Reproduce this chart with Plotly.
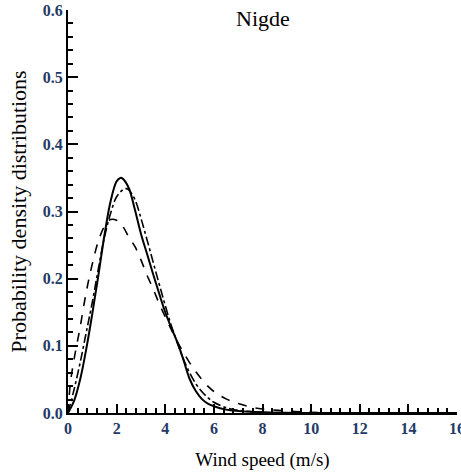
import plotly.graph_objects as go

# Solid curve
x_solid = [0, 0.25, 0.5, 0.75, 1.0, 1.25, 1.5, 1.75, 2.0, 2.15, 2.25, 2.5, 2.75, 3.0, 3.25, 3.5, 3.75,
           4.0, 4.25, 4.5, 4.75, 5.0, 5.25, 5.5, 5.75, 6.0, 6.5, 7.0, 8.0, 10.0, 16.0]
y_solid = [0, 0.018, 0.05, 0.095, 0.148, 0.205, 0.265, 0.315, 0.345, 0.350, 0.349, 0.335, 0.303, 0.267,
           0.237, 0.207, 0.178, 0.150, 0.127, 0.105, 0.079, 0.051, 0.033, 0.021, 0.014, 0.010, 0.005,
           0.003, 0.001, 0.0, 0.0]

# Dash-dot curve
x_dashdot = [0, 0.25, 0.5, 0.75, 1.0, 1.25, 1.5, 1.75, 2.0, 2.25, 2.4, 2.5, 2.75, 3.0, 3.25, 3.5, 3.75,
             4.0, 4.25, 4.5, 4.75, 5.0, 5.25, 5.5, 5.75, 6.0, 6.5, 7.0, 8.0, 10.0, 16.0]
y_dashdot = [0, 0.035, 0.075, 0.12, 0.165, 0.215, 0.262, 0.297, 0.322, 0.332, 0.334, 0.332, 0.318, 0.290,
             0.258, 0.225, 0.192, 0.160, 0.130, 0.104, 0.080, 0.060, 0.044, 0.032, 0.023, 0.016, 0.008,
             0.004, 0.001, 0.0, 0.0]

# Dashed curve
x_dashed = [0, 0.1, 0.25, 0.5, 0.75, 1.0, 1.25, 1.5, 1.75, 2.0, 2.25, 2.5, 2.75, 3.0, 3.25, 3.5, 3.75,
            4.0, 4.25, 4.5, 4.75, 5.0, 5.25, 5.5, 5.75, 6.0, 6.5, 7.0, 7.5, 8.0, 9.0, 10.0, 12.0, 16.0]
y_dashed = [0, 0.045, 0.08, 0.128, 0.18, 0.222, 0.256, 0.278, 0.288, 0.287, 0.278, 0.262, 0.248, 0.228,
            0.205, 0.185, 0.163, 0.143, 0.124, 0.106, 0.090, 0.075, 0.062, 0.050, 0.040, 0.032, 0.021,
            0.014, 0.009, 0.006, 0.003, 0.001, 0.0, 0.0]

x_ticks = [0, 2, 4, 6, 8, 10, 12, 14, 16]
y_ticks = [0.0, 0.1, 0.2, 0.3, 0.4, 0.5, 0.6]
y_ticklabels = ["0.0", "0.1", "0.2", "0.3", "0.4", "0.5", "0.6"]

SERIF = "Liberation Serif"

fig = go.Figure()
fig.add_trace(go.Scatter(x=x_dashed, y=y_dashed, mode="lines", line=dict(color="black", width=1.6, dash="dash", shape="spline"), showlegend=False))
fig.add_trace(go.Scatter(x=x_dashdot, y=y_dashdot, mode="lines", line=dict(color="black", width=1.6, dash="dashdot", shape="spline"), showlegend=False))
fig.add_trace(go.Scatter(x=x_solid, y=y_solid, mode="lines", line=dict(color="black", width=2, shape="spline"), showlegend=False))

tickfont = dict(family=SERIF, size=16, color="#233a66")
fig.update_layout(
    width=461, height=474,
    margin=dict(l=68, r=4, t=10, b=61),
    paper_bgcolor="white", plot_bgcolor="white",
    font=dict(family=SERIF, color="black"),
    annotations=[dict(text="Nigde", x=0.5, y=0.978, xref="paper", yref="paper", xanchor="center", yanchor="middle",
                      showarrow=False, font=dict(family=SERIF, size=22, color="black"))],
)
fig.update_xaxes(
    range=[0, 16], tickmode="array", tickvals=x_ticks, ticktext=[f"<b>{v}</b>" for v in x_ticks],
    ticks="inside", ticklen=9, tickwidth=1.5, tickcolor="black", ticklabeloverflow="allow", automargin=False,
    showline=True, linecolor="black", linewidth=2, showgrid=False, zeroline=False,
    tickfont=tickfont,
    minor=dict(dtick=0.4, ticks="inside", ticklen=5, tickwidth=1.5, tickcolor="black", showgrid=False),
    title=dict(text="Wind speed (m/s)", font=dict(family=SERIF, size=19, color="black"), standoff=16),
)
fig.update_yaxes(
    range=[0, 0.6], tickmode="array", tickvals=y_ticks, ticktext=[f"<b>{t}</b>" for t in y_ticklabels],
    ticks="inside", ticklen=10, tickwidth=1.5, tickcolor="black", automargin=False,
    showline=True, linecolor="black", linewidth=2, showgrid=False, zeroline=False,
    tickfont=tickfont,
    minor=dict(dtick=0.02, ticks="inside", ticklen=5, tickwidth=1.5, tickcolor="black", showgrid=False),
    title=dict(text="Probability density distributions", font=dict(family=SERIF, size=22, color="black"), standoff=10),
)
fig.write_html("out.html")
